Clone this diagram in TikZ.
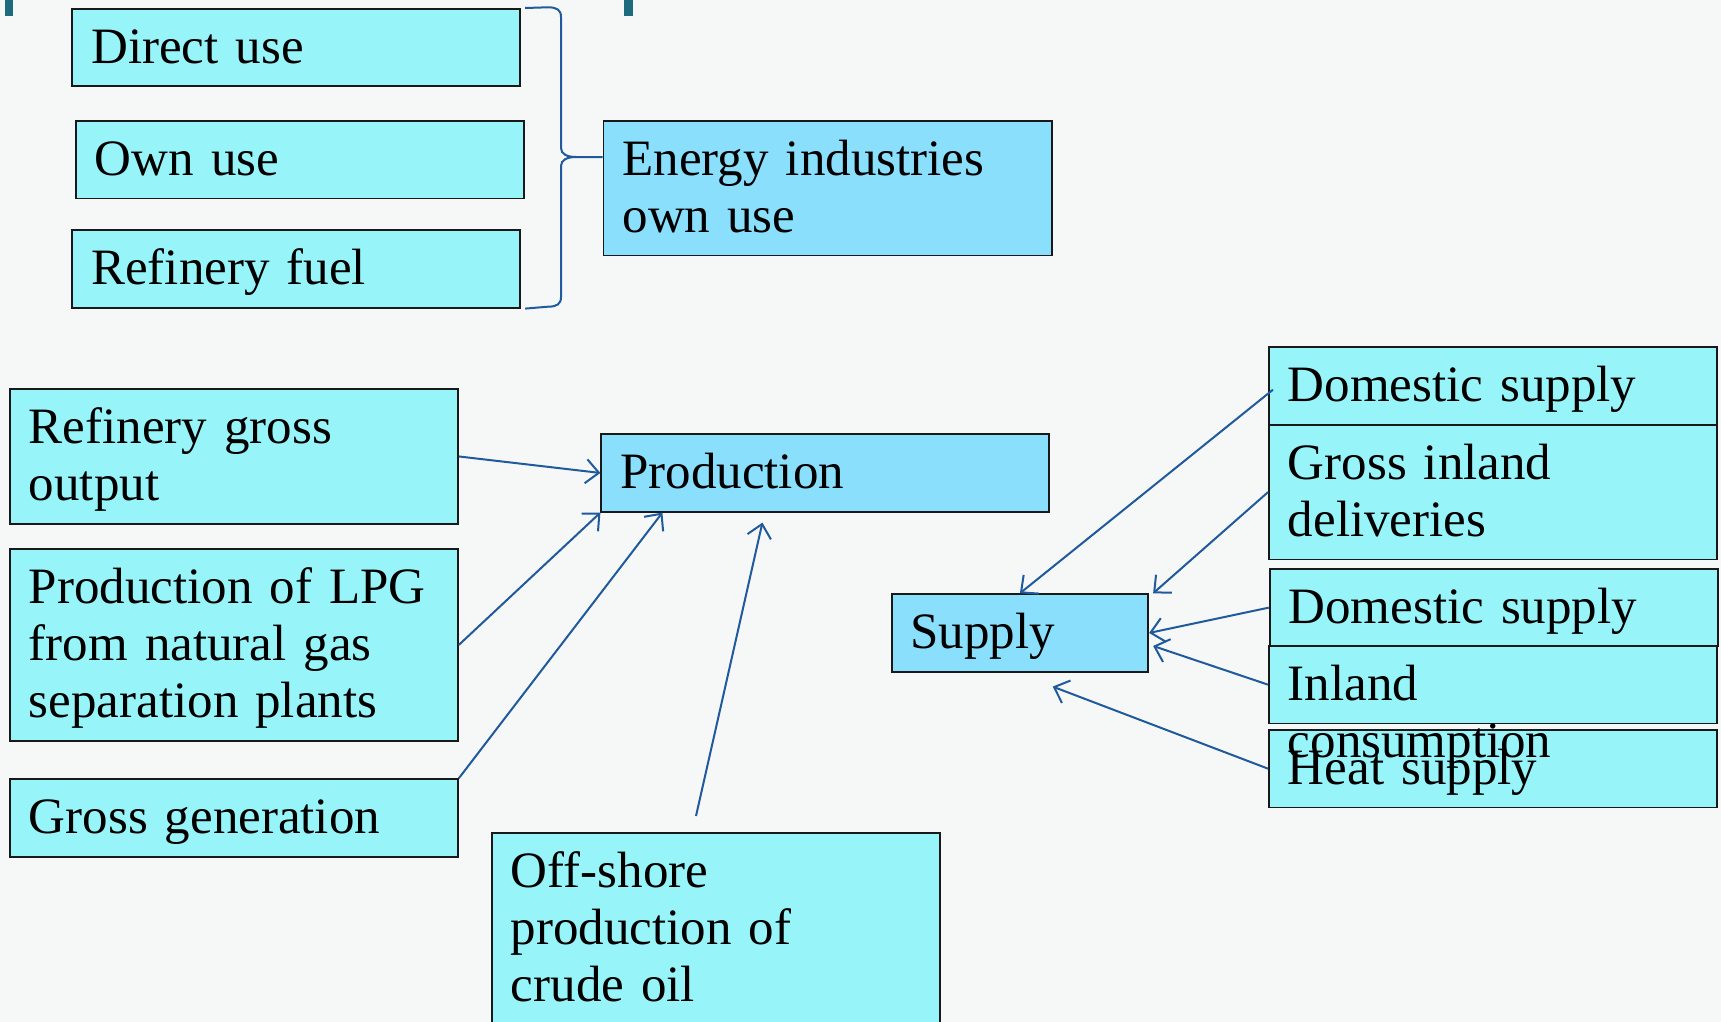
\documentclass[tikz,border=0pt]{standalone}
\usepackage{fontspec}
\setmainfont{Liberation Serif}
\usetikzlibrary{arrows.meta,calc}
\definecolor{boxcyan}{HTML}{97F5FA}
\definecolor{boxblue}{HTML}{8ADFFC}
\definecolor{linkblue}{HTML}{1F5A9C}
\definecolor{bgcol}{HTML}{F6F7F7}
\definecolor{markteal}{HTML}{1E6B7E}
\newcommand\ms{\rule[-13pt]{0pt}{57pt}}
\begin{document}
\begin{tikzpicture}[x=1pt,y=-1pt,
  box/.style={draw=black!90, line width=1.8pt, fill=boxcyan, anchor=north west,
    inner xsep=19pt, inner ysep=10.25pt, text width=#1, align=left,
    font=\fontsize{51}{57}\selectfont},
  box/.default=410pt,
  keybox/.style={box=#1, fill=boxblue},
  conn/.style={draw=linkblue, line width=2pt, -{Straight Barb[length=13pt,width=24pt]}},
  bracel/.style={draw=linkblue, line width=2pt}]
\useasboundingbox (0,0) rectangle (1721,1022);
\fill[bgcol] (0,0) rectangle (1721,1022);
\clip (0,0) rectangle (1721,1022);
\fill[markteal] (4.5,0) rectangle (12.5,16);
\fill[markteal] (624,0) rectangle (633,16);
% left upper group
\node[box] (direct) at (71.4,8) {\ms Direct use};
\node[box] (own) at (75,120) {\ms Own use};
\node[box] (reffuel) at (71.4,229.3) {\ms Refinery fuel};
\node[keybox=410.4pt] (energy) at (602.6,120) {\ms Energy industries\\\ms own use};
% brace
\coordinate (bt) at ([xshift=4pt]direct.north east);
\coordinate (bb) at ([xshift=4pt]reffuel.south east);
\coordinate (btip) at (576,157);
\coordinate (bend) at (energy.west |- btip);
\draw[bracel] (bt) -- (548,7.3) .. controls (557,7.3) and (561,10) .. (561,17) -- (561,148)
  .. controls (561,154) and (567,157) .. (btip) -- (bend);
\draw[bracel] (btip) .. controls (567,157) and (561,160) .. (561,166) -- (561,297)
  .. controls (561,304) and (557,306.7) .. (548,306.7) -- (bb);
% production group
\node[box] (refgross) at (9,388.3) {\ms Refinery gross\\\ms output};
\node[keybox=409.6pt] (prod) at (600.4,433.3) {\ms Production};
\node[box] (lpg) at (9,548.3) {\ms Production of LPG\\\ms from natural gas\\\ms separation plants};
\node[box] (grossgen) at (9,778.3) {\ms Gross generation};
\node[box] (offshore) at (491,832) {\ms Off-shore\\\ms production of\\\ms crude oil};
% supply group
\node[keybox=218.6pt] (supply) at (890.7,593.3) {\ms Supply};
\node[box] (dom1) at (1268,346) {\ms Domestic supply};
\node[box] (gid) at (1268,424) {\ms Gross inland\\\ms deliveries};
\node[box] (dom2) at (1268.7,568) {\ms Domestic supply};
\node[box] (heat) at (1268,729) {\ms Heat supply};
\node[draw=black!90, line width=1.8pt, fill=boxcyan, anchor=north west, inner xsep=19pt,
  inner ysep=10.25pt, font=\fontsize{51}{57}\selectfont] (inland) at (1268,645)
  {\raisebox{0pt}[44pt][13pt]{\parbox[t]{410pt}{\ms Inland\\\ms consumption}}};
% connectors
\draw[conn] (refgross.east) -- (prod.west);
\draw[conn] (lpg.east) -- (prod.south west);
\draw[conn] (grossgen.north east) -- ([xshift=62pt]prod.south west);
\draw[conn] ([xshift=205pt,yshift=16pt]offshore.north west) -- ([xshift=162pt,yshift=-10pt]prod.south west);
\draw[conn] ([xshift=5pt,yshift=-4pt]dom1.west) -- (supply.north);
\draw[conn] (gid.west) -- ([xshift=4pt]supply.north east);
\draw[conn] (dom2.west) -- (supply.east);
\draw[conn] (inland.west) -- ([xshift=4pt,yshift=-13pt]supply.east);
\draw[conn] (heat.west) -- ([xshift=162pt,yshift=-14pt]supply.south west);
\end{tikzpicture}
\end{document}
